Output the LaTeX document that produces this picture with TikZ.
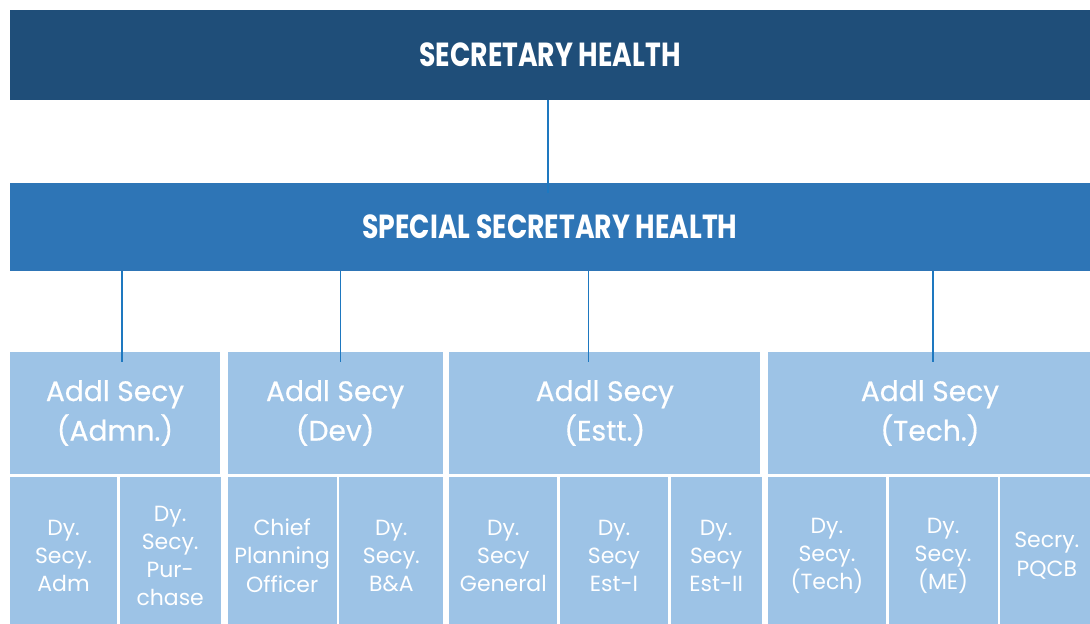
\documentclass[tikz,border=0pt]{standalone}
\usepackage{fontspec}
\setmainfont{Poppins}
\newfontfamily\headfont[FakeStretch=0.8]{Poppins}
\newfontfamily\addlfont[FakeBold=0.6]{Poppins}
\usepackage{tikz}
\usetikzlibrary{positioning}

\definecolor{shdark}{HTML}{1F4E79}
\definecolor{ssblue}{HTML}{2E75B6}
\definecolor{addlblue}{HTML}{9DC3E6}
\definecolor{linkblue}{RGB}{30,120,192}

\begin{document}
\begin{tikzpicture}[
        x=0.02cm, y=-0.02cm,
        node distance=0.04cm and 0.04cm,
        headbox/.style={rectangle, minimum width=21.6cm, inner sep=0pt, text=white, font=\headfont\bfseries\fontsize{19}{22}\selectfont},
        addl/.style={rectangle, fill=addlblue, minimum height=2.44cm, inner sep=0pt, align=center, text=white, font=\addlfont\fontsize{16}{22.5}\selectfont},
        sub/.style={rectangle, fill=addlblue, minimum height=3.16cm, inner sep=0pt, align=center, text=white, font=\fontsize{12.5}{16}\selectfont},
        link/.style={draw=linkblue, line width=0.75pt}
    ]
    \clip (0,0) rectangle (1090,624);

    % Top two levels
    \node[headbox, fill=shdark, minimum height=1.8cm] (sh) at (550,55) {SECRETARY HEALTH};
    \node[headbox, fill=ssblue, minimum height=1.76cm] (ss) [below=1.64cm of sh] {SPECIAL SECRETARY HEALTH};

    % Additional secretaries
    \node[addl, minimum width=4.2cm] (a1) at (115,413) {Addl Secy\\(Admn.)};
    \node[addl, minimum width=4.3cm] (a2) [right=0.14cm of a1] {Addl Secy\\(Dev)};
    \node[addl, minimum width=6.22cm] (a3) [right=0.12cm of a2] {Addl Secy\\(Estt.)};
    \node[addl, minimum width=6.48cm] (a4) [right=0.14cm of a3] {Addl Secy\\(Tech.)};

    % Deputy secretaries under each
    \node[sub, minimum width=2.14cm] (d11) [below right=0.04cm and 0cm of a1.south west] {Dy.\\Secy.\\Adm};
    \node[sub, minimum width=2.02cm] (d12) [right=of d11] {Dy.\\Secy.\\Pur-\\chase};

    \node[sub, minimum width=2.18cm] (d21) [below right=0.04cm and 0cm of a2.south west] {Chief\\Planning\\Officer};
    \node[sub, minimum width=2.08cm] (d22) [right=of d21] {Dy.\\Secy.\\B\&A};

    \node[sub, minimum width=2.16cm] (d31) [below right=0.04cm and 0cm of a3.south west] {Dy.\\Secy\\General};
    \node[sub, minimum width=2.16cm] (d32) [right=of d31] {Dy.\\Secy\\Est-I};
    \node[sub, minimum width=1.82cm] (d33) [right=of d32] {Dy.\\Secy\\Est-II};

    \node[sub, minimum width=2.36cm] (d41) [below right=0.04cm and 0cm of a4.south west] {Dy.\\Secy.\\(Tech)};
    \node[sub, minimum width=2.18cm] (d42) [right=of d41] {Dy.\\Secy.\\(ME)};
    \node[sub, minimum width=1.86cm] (d43) [right=of d42] {Secry.\\PQCB};

    % Links
    \draw[link] ([xshift=-0.04cm]sh.south) -- ([xshift=-0.04cm, yshift=-0.22cm]ss.north);
    \draw[link] ([xshift=0.14cm]a1.north |- ss.south) -- ([xshift=0.14cm, yshift=-0.2cm]a1.north);
    \draw[link] ([xshift=0.11cm]a2.north |- ss.south) -- ([xshift=0.11cm, yshift=-0.2cm]a2.north);
    \draw[link] ([xshift=-0.33cm]a3.north |- ss.south) -- ([xshift=-0.33cm, yshift=-0.2cm]a3.north);
    \draw[link] ([xshift=0.06cm]a4.north |- ss.south) -- ([xshift=0.06cm, yshift=-0.2cm]a4.north);

\end{tikzpicture}
\end{document}
